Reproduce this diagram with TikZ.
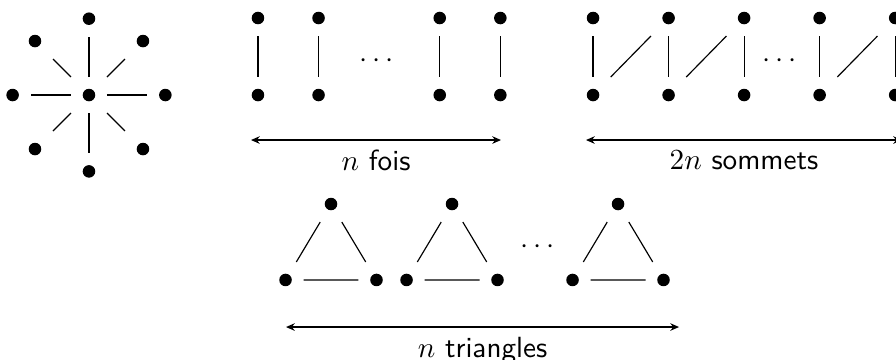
\documentclass[tikz,border=0pt]{standalone}
\usepackage{amsmath}
\usepackage{tikz}
\usetikzlibrary{arrows.meta,positioning,calc}

\begin{document}
\begin{tikzpicture}[
    sommet/.style={rectangle, inner sep=0pt, minimum size=4.2mm,
                   path picture={\fill (path picture bounding box.center) circle (2.15pt);}},
    arr/.style={{Stealth[length=3pt,width=2.6pt]}-{Stealth[length=3pt,width=2.6pt]}},
    lab/.style={below, font=\sffamily}]

    \clip (0,0) rectangle (10.795,-4.337);

    % etoile
    \node[sommet] (c) at (1.072,-1.145) {};
    \foreach \a in {0,45,...,315} {
        \node[sommet] (e\a) at ($(c)+(\a:0.92)$) {};
        \draw (c) -- (e\a);
    }

    % n aretes disjointes
    \foreach \k/\n in {0/1,1/2,3/3,4/4} {
        \node[sommet] (h\n) at (3.108+0.73*\k,-0.217) {};
        \node[sommet] (b\n) at (3.108+0.73*\k,-1.145) {};
        \draw (h\n) -- (b\n);
    }
    \node (d1) at (4.57,-0.74) {$\cdots$};
    \coordinate (a1g) at (3.024,-1.687);
    \coordinate (a1d) at (6.036,-1.687);
    \draw[arr] (a1g) -- node[lab] (l1) {$n$ fois} (a1d);

    % chemin en zigzag
    \foreach \k in {1,...,5} {
        \node[sommet] (H\k) at (7.145+0.91*\k-0.91,-0.217) {};
        \node[sommet] (B\k) at (7.145+0.91*\k-0.91,-1.145) {};
        \draw (H\k) -- (B\k);
    }
    \foreach \k/\j in {1/2,2/3,4/5}
        \draw (B\k) -- (H\j);
    \node (d2) at (9.42,-0.74) {$\cdots$};
    \coordinate (a2g) at (7.06,-1.687);
    \coordinate (a2d) at (10.867,-1.687);
    \draw[arr] (a2g) -- node[lab] (l2) {$2n$ sommets} (a2d);

    % triangles
    \foreach \t/\x in {1/3.988,2/5.446,3/7.446} {
        \node[sommet] (t\t) at (\x,-2.458) {};
        \node[sommet] (g\t) at (\x-0.548,-3.373) {};
        \node[sommet] (r\t) at (\x+0.548,-3.373) {};
        \draw (t\t) -- (g\t) (t\t) -- (r\t) (g\t) -- (r\t);
    }
    \node (d3) at (6.506,-2.98) {$\cdots$};
    \coordinate (a3g) at (3.446,-3.94);
    \coordinate (a3d) at (8.181,-3.94);
    \draw[arr] (a3g) -- node[lab] (l3) {$n$ triangles} (a3d);
\end{tikzpicture}
\end{document}
